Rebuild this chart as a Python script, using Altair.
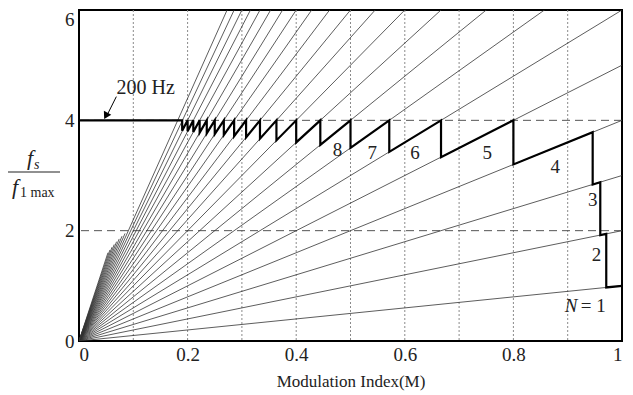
import altair as alt
import pandas as pd

# Fan of lines f_s/f_1max = N * M
fan_n = list(range(1, 23))
short_n = [23, 24, 25, 26, 27, 28, 29, 30]
short_end_f = [1.95, 1.9, 1.85, 1.8, 1.75, 1.7, 1.65, 1.6]

# Thick staircase (selected switching frequency)
stair_m = [0.0,
           0.190, 0.190, 0.200, 0.200, 0.2105, 0.2105, 0.2222, 0.2222,
           0.2353, 0.2353, 0.250, 0.250, 0.2667, 0.2667, 0.2857, 0.2857,
           0.3077, 0.3077, 0.3333, 0.3333, 0.3636, 0.3636, 0.400, 0.400,
           0.4444, 0.4444, 0.500, 0.500, 0.5714, 0.5714, 0.6667, 0.6667,
           0.800, 0.800, 0.946, 0.946, 0.960, 0.960, 0.971, 0.971,
           1.0]
stair_f = [4.0,
           4.0, 3.810, 4.0, 3.800, 4.0, 3.789, 4.0, 3.778,
           4.0, 3.765, 4.0, 3.750, 4.0, 3.733, 4.0, 3.714,
           4.0, 3.692, 4.0, 3.667, 4.0, 3.636, 4.0, 3.600,
           4.0, 3.556, 4.0, 3.500, 4.0, 3.429, 4.0, 3.333,
           4.0, 3.200, 3.784, 2.838, 2.880, 1.920, 1.942, 0.971,
           1.0]

step_labels = ["8", "7", "6", "5", "4", "3", "2"]
label_m = [0.476, 0.540, 0.619, 0.752, 0.877, 0.946, 0.953]
label_f = [3.47, 3.40, 3.40, 3.40, 3.15, 2.55, 1.55]

x_grid = [0.1, 0.2, 0.3, 0.4, 0.5, 0.6, 0.7, 0.8, 0.9]
y_grid = [2, 4]
x_ticks = [0, 0.2, 0.4, 0.6, 0.8, 1.0]
y_ticks = [0, 2, 4, 6]

FONT = "Liberation Serif"
W, H = 543, 331

xs = alt.Scale(domain=[0, 1], nice=False, zero=False)
ys = alt.Scale(domain=[0, 6], nice=False, zero=False)

xaxis = alt.Axis(values=x_ticks, grid=False, ticks=False, domain=False,
                 labelExpr="datum.value == 0 ? '0' : datum.value == 1 ? '1' : format(datum.value, '.1f')",
                 labelFont=FONT, labelFontSize=19, labelColor="#222", labelPadding=4,
                 title="Modulation Index(M)", titleFont=FONT, titleFontSize=17,
                 titleFontWeight="normal", titleColor="#222", titlePadding=9)
yaxis = alt.Axis(values=y_ticks, grid=False, ticks=False, domain=False,
                 format="d", labelFont=FONT, labelFontSize=19, labelColor="#222",
                 labelPadding=5, title=None,
                 labelOffset={"condition": {"test": "datum.value == 6", "value": 9}, "value": 0})

X = alt.X("M:Q", scale=xs, axis=xaxis)
Y = alt.Y("F:Q", scale=ys, axis=yaxis)

fan_rows = []
for n in fan_n:
    fan_rows.append({"n": n, "o": 0, "M": 0.0, "F": 0.0})
    fan_rows.append({"n": n, "o": 1, "M": 1.0, "F": float(n)})
for n, fe in zip(short_n, short_end_f):
    fan_rows.append({"n": n, "o": 0, "M": 0.0, "F": 0.0})
    fan_rows.append({"n": n, "o": 1, "M": fe / n, "F": fe})
fan_df = pd.DataFrame(fan_rows)

stair_df = pd.DataFrame({"M": stair_m, "F": stair_f, "o": list(range(len(stair_m)))})
lab_df = pd.DataFrame({"M": label_m, "F": label_f, "t": step_labels})

vgrid = alt.Chart(pd.DataFrame({"M": x_grid})).mark_rule(
    color="#8a8a8a", strokeWidth=1, strokeDash=[2, 2]
).encode(x=X)

hgrid = alt.Chart(pd.DataFrame({"F": y_grid})).mark_rule(
    color="#555", strokeWidth=1, strokeDash=[8, 5]
).encode(y=Y)

fan = alt.Chart(fan_df).mark_line(color="#333", strokeWidth=0.8, clip=True).encode(
    x=X, y=Y, detail="n:N", order="o:Q")

stair = alt.Chart(stair_df).mark_line(color="black", strokeWidth=2.2, strokeJoin="miter").encode(
    x=X, y=Y, order="o:Q")

labels = alt.Chart(lab_df).mark_text(font=FONT, fontSize=19, color="#222",
                                     align="center", baseline="middle").encode(
    x=X, y=Y, text="t:N")

n1_df = pd.DataFrame({"M": [0.918], "F": [0.63], "t": ["N"]})
n1 = alt.Chart(n1_df).mark_text(font=FONT, fontSize=19, fontStyle="italic", color="#222",
                                align="right", baseline="middle").encode(
    x=X, y=Y, text="t:N")
eq_df = pd.DataFrame({"M": [0.924], "F": [0.63], "t": ["= 1"]})
eq1 = alt.Chart(eq_df).mark_text(font=FONT, fontSize=19, color="#222",
                                 align="left", baseline="middle").encode(
    x=X, y=Y, text="t:N")

hz_df = pd.DataFrame({"M": [0.069], "F": [4.48], "t": ["200 Hz"]})
hz = alt.Chart(hz_df).mark_text(font=FONT, fontSize=20, color="#222",
                                align="left", baseline="alphabetic").encode(
    x=X, y=Y, text="t:N")

arrow_df = pd.DataFrame({"M": [0.0688, 0.051], "F": [4.43, 4.08], "o": [0, 1]})
arrow = alt.Chart(arrow_df).mark_line(color="black", strokeWidth=1).encode(
    x=X, y=Y, order="o:Q")
head_df = pd.DataFrame({"M": [0.0495], "F": [4.08]})
head = alt.Chart(head_df).mark_point(shape="triangle-up", filled=True, color="black",
                                     size=70, angle=208, opacity=1).encode(
    x=X, y=Y)

# y-axis title as a fraction f_s / f_1max
def txt(t, x, y, size, style="normal", align="center"):
    return alt.Chart(pd.DataFrame({"t": [t]})).mark_text(
        font=FONT, fontSize=size, fontStyle=style, color="#222",
        align=align, baseline="alphabetic").encode(
        text="t:N", x=alt.value(x), y=alt.value(y))

frac_bar = alt.Chart(pd.DataFrame({"a": [0]})).mark_rule(color="#222", strokeWidth=1.2).encode(
    x=alt.value(-71), x2=alt.value(-19), y=alt.value(162))

ytitle = [
    txt("f", -49, 155, 22, "italic"),
    txt("s", -45, 159, 14, "italic", "left"),
    frac_bar,
    txt("f", -64, 184, 22, "italic"),
    txt("1 max", -59, 187, 14, "normal", "left"),
]

chart = alt.layer(vgrid, hgrid, fan, stair, labels, n1, eq1, hz, arrow, head, *ytitle).properties(
    width=W, height=H, background="white",
    autosize=alt.AutoSizeParams(type="none"),
    padding={"left": 71, "top": 2, "right": 3, "bottom": 53},
).configure_view(stroke="black", strokeWidth=2)

chart.save("out.html", embed_options={"renderer": "svg", "actions": False})
